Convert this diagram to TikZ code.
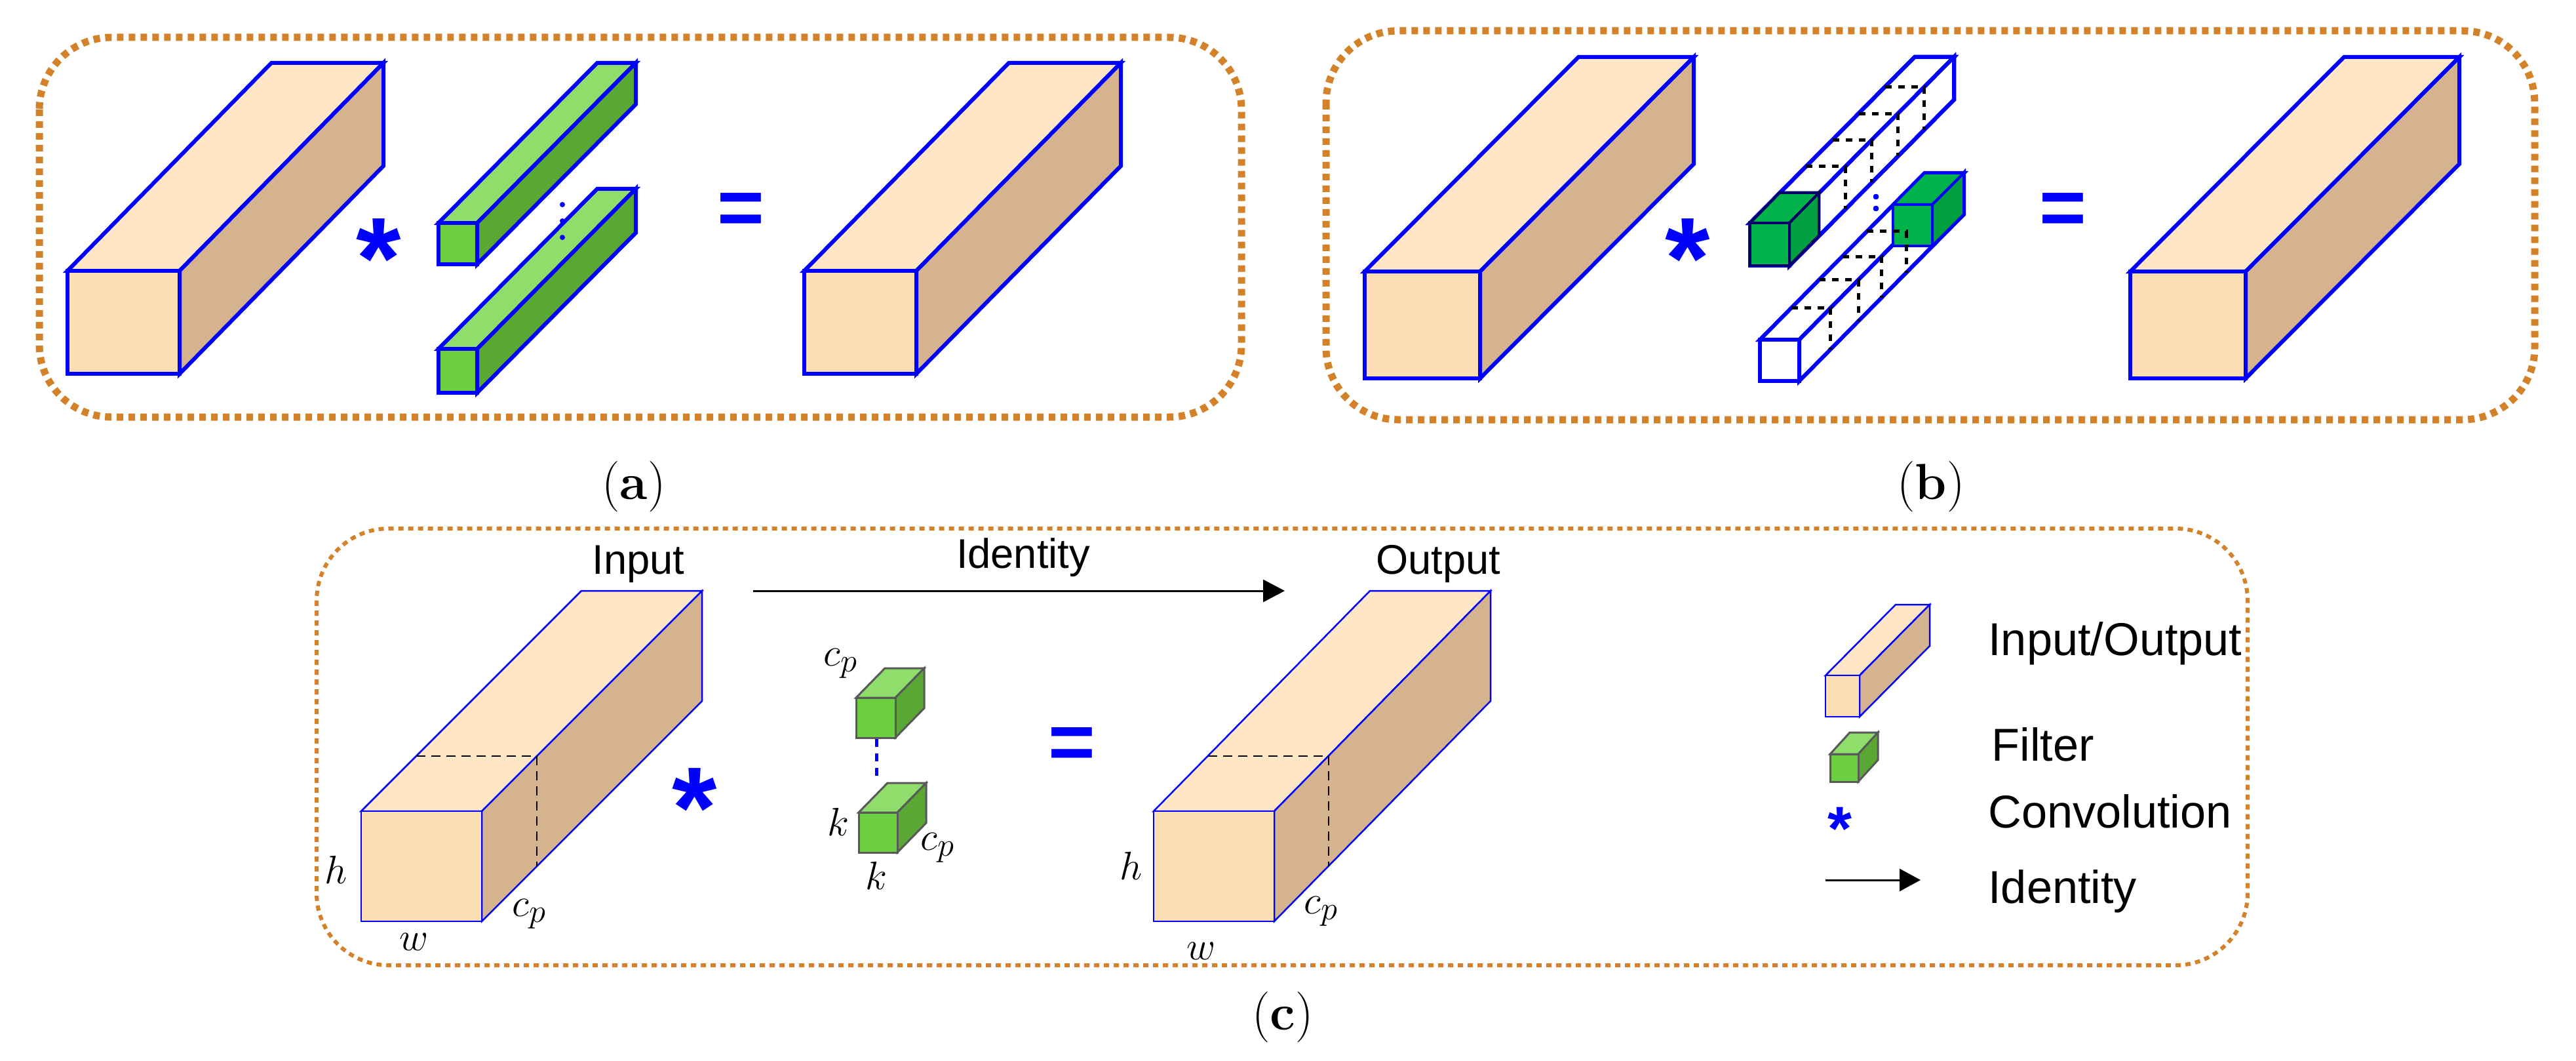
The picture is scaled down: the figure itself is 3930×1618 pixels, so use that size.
\documentclass[tikz,border=0pt]{standalone}
\usepackage{fontspec}
\setmainfont{Liberation Sans}
\newfontfamily\lmserif{Latin Modern Roman}
\usetikzlibrary{arrows.meta}
\definecolor{pef}{HTML}{FDDEB3}\definecolor{pet}{HTML}{FFE6C7}\definecolor{pes}{HTML}{D6B38F}
\definecolor{grf}{HTML}{6BCF3F}\definecolor{grt}{HTML}{8FDD6A}\definecolor{grs}{HTML}{59A834}
\definecolor{dgf}{HTML}{00B24A}\definecolor{dgt}{HTML}{00B24A}\definecolor{dgs}{HTML}{00A040}
\definecolor{whf}{HTML}{FFFFFF}\definecolor{wht}{HTML}{FFFFFF}\definecolor{whs}{HTML}{FFFFFF}
\definecolor{frame}{HTML}{D4822A}\definecolor{myblue}{HTML}{0000FF}
\newcommand\cuboid[8]{%
  \draw[#2,fill=#1t,line join=miter] (#3,#4) -- ++(#7,-#8) -- ++(#5,0) -- ++(-#7,#8) -- cycle;
  \draw[#2,fill=#1s,line join=miter] (#3+#5,#4) -- ++(#7,-#8) -- ++(0,#6) -- ++(-#7,#8) -- cycle;
  \draw[#2,fill=#1f,line join=miter] (#3,#4) rectangle ++(#5,#6);
}
\newcommand\slice[8]{%
  \draw[#1] (#2+#8*#6,#3-#8*#7) -- ++(#4,0) -- ++(0,#5);
}
\tikzset{
  frm/.style={draw=frame,line width=1.1mm,dash pattern=on 1mm off 0.8mm,rounded corners=11mm},
  frmc/.style={draw=frame,line width=0.6mm,dash pattern=on 0.8mm off 0.7mm,rounded corners=11mm},
  thick blue/.style={draw=myblue,line width=0.6mm},
  thin blue/.style={draw=myblue,line width=0.25mm},
  gray line/.style={draw=black!65,line width=0.3mm},
  slc/.style={black,line width=0.2mm,dash pattern=on 1.4mm off 0.9mm},
  slb/.style={black,line width=0.5mm,dash pattern=on 1mm off 1mm},
  lbl/.style={font=\fontsize{18}{20}\selectfont,anchor=base},
  leg/.style={font=\fontsize{20}{22}\selectfont,anchor=base west},
  mth/.style={font=\fontsize{19}{21}\selectfont},
  capt/.style={font=\lmserif\fontsize{22}{24}\selectfont},
  ast/.style={text=myblue,font=\bfseries\fontsize{50}{50}\selectfont,anchor=base,inner sep=0},
  eq/.style={text=myblue,font=\bfseries\fontsize{35}{35}\selectfont,anchor=base,inner sep=0},
}
\begin{document}
\begin{tikzpicture}[x=0.1mm,y=-0.1mm]
\useasboundingbox (0,0) rectangle (3930,1618);
% ---------- panel a
\draw[frm] (60,57) rectangle (1894,636);
\cuboid{pe}{thick blue}{103}{413}{171}{157}{311}{317}
\cuboid{gr}{thick blue}{669}{340}{59}{63}{242}{244}
\cuboid{gr}{thick blue}{669}{532}{59}{67}{242}{244}
\cuboid{pe}{thick blue}{1227}{413}{171}{157}{312}{317}
\node[ast] (asta) at (578,455) {*};
\node[eq] (eqa) at (1130,359) {=};
\foreach \yy in {312,337,362}\fill[myblue] (858,\yy) circle (4);
\node[capt] (capa) at (967,742) {(\textbf{a})};
% ---------- panel b
\draw[frm] (2023,47) rectangle (3867,640);
\cuboid{pe}{thick blue}{2082}{414}{176}{163}{326}{327}
\cuboid{wh}{thick blue}{2685}{518}{60}{63}{251}{254}
\cuboid{dg}{draw=myblue,line width=0.4mm}{2888}{312}{60}{63}{48}{48}
\foreach \t in {0.19,0.36,0.5,0.65}\slice{slb}{2685}{518}{60}{63}{251}{254}{\t}
\cuboid{wh}{thick blue}{2670}{340}{60}{65}{251}{253}
\foreach \t in {0.34,0.5,0.66,0.82}\slice{slb}{2670}{340}{60}{65}{251}{253}{\t}
\cuboid{dg}{draw=myblue!40!black,line width=0.4mm}{2670}{340}{60}{65}{45}{46}
\foreach \yy in {300,318}\fill[myblue] (2862,\yy) circle (4);
\node[ast] (astb) at (2575,455) {*};
\node[eq] (eqb) at (3147,359) {=};
\cuboid{pe}{thick blue}{3250}{414}{176}{163}{326}{327}
\node[capt] (capb) at (2946,742) {(\textbf{b})};
% ---------- panel c
\draw[frmc] (483,806) rectangle (3429,1472);
\cuboid{pe}{thin blue}{551}{1237}{184}{168}{336}{336}
\slice{slc}{551}{1237}{184}{168}{336}{336}{0.25}
\cuboid{pe}{thin blue}{1760}{1237}{184}{168}{330}{336}
\slice{slc}{1760}{1237}{184}{168}{330}{336}{0.25}
\node[lbl] (inp) at (974,875) {Input};
\node[lbl] (outp) at (2194,875) {Output};
\coordinate (ida) at (1149,901);
\coordinate (idb) at (1960,901);
\draw[line width=0.3mm,-{Triangle[length=3.3mm,width=3.4mm]}] (ida) -- (idb);
\node[lbl] (idt) at (1561,866) {Identity};
\node[ast] (astc) at (1060,1292) {*};
\cuboid{gr}{gray line}{1306}{1064}{60}{61}{44}{45}
\cuboid{gr}{gray line}{1310}{1239}{59}{61}{44}{45}
\draw[myblue,line width=0.5mm,dash pattern=on 1.2mm off 1mm] (1337,1127) -- (1337,1192);
\node[eq] (eqc) at (1635,1173) {=};
\node[mth] at (513,1326) {$h$};
\node[mth] at (632,1436) {$w$};
\node[mth] at (808,1394) {$c_p$};
\node[mth] at (1726,1320) {$h$};
\node[mth] at (1833,1450) {$w$};
\node[mth] at (2016,1390) {$c_p$};
\node[mth] at (1283,1012) {$c_p$};
\node[mth] at (1279,1253) {$k$};
\node[mth] at (1431,1293) {$c_p$};
\node[mth] at (1337,1335) {$k$};
% legend
\cuboid{pe}{thin blue}{2785}{1030}{52}{63}{107}{108}
\cuboid{gr}{gray line}{2792}{1150}{43}{42}{30}{33}
\node[ast,font=\bfseries\fontsize{27}{27}\selectfont] (astl) at (2807,1296) {*};
\coordinate (la) at (2785,1342);
\coordinate (lb) at (2930,1342);
\draw[line width=0.3mm,-{Triangle[length=3.2mm,width=3.4mm]}] (la) -- (lb);
\node[leg] at (3021,999) {Input/Output};
\node[leg] at (3026,1160) {Filter};
\node[leg] at (3021,1262) {Convolution};
\node[leg] at (3021,1377) {Identity};
\node[capt] (capc) at (1957,1551) {(\textbf{c})};
\end{tikzpicture}
\end{document}
